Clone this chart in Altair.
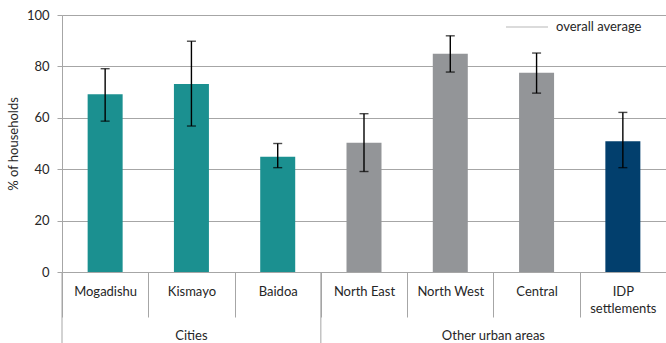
import altair as alt
import pandas as pd

# Share of households by location, with 95% confidence intervals
locations = ["Mogadishu", "Kismayo", "Baidoa", "North East", "North West", "Central", "IDP settlements"]
groups = ["Cities", "Cities", "Cities", "Other urban areas", "Other urban areas", "Other urban areas", "IDP"]
share = [69.2, 73.2, 44.8, 50.3, 84.9, 77.5, 50.9]
ci_low = [58.7, 56.8, 40.6, 39.1, 77.8, 69.6, 40.6]
ci_high = [79.1, 89.8, 50.0, 61.6, 91.9, 85.2, 62.1]
palette = {"Cities": "#1B9090", "Other urban areas": "#939598", "IDP": "#023F6D"}

df = pd.DataFrame({
    "location": locations,
    "group": groups,
    "share": share,
    "low": ci_low,
    "high": ci_high,
})

FONT = "Lato"
GRID = "#A6A6A6"
TEXT = "#262626"
W, H = 604, 257

x = alt.X(
    "location:N",
    sort=locations,
    scale=alt.Scale(paddingInner=0, paddingOuter=0),
    axis=alt.Axis(
        title=None,
        domain=False,
        tickBand="extent",
        tickSize=45,
        tickColor=GRID,
        tickWidth=1,
        labelAngle=0,
        labelFont=FONT,
        labelFontSize=13,
        labelColor=TEXT,
        labelPadding=-32,
        labelBaseline="top",
        labelLineHeight=17,
        labelExpr="datum.value == 'IDP settlements' ? ['IDP', 'settlements'] : datum.label",
    ),
)

bars = alt.Chart(df).mark_bar(size=35).encode(
    x=x,
    y=alt.Y(
        "share:Q",
        scale=alt.Scale(domain=[0, 100]),
        axis=alt.Axis(
            title="% of households",
            values=[0, 20, 40, 60, 80, 100],
            grid=True,
            gridColor=GRID,
            domainColor=GRID,
            tickColor=GRID,
            tickSize=5,
            labelFont=FONT,
            labelFontSize=13,
            labelColor=TEXT,
            labelPadding=8,
            titleFont=FONT,
            titleFontSize=13,
            titleFontWeight="normal",
            titleColor=TEXT,
            titlePadding=6,
        ),
    ),
    color=alt.Color("group:N", scale=alt.Scale(domain=list(palette), range=list(palette.values())), legend=None),
)

whisker = alt.Chart(df).mark_rule(color="#000000", strokeWidth=1.4).encode(
    x=alt.X("location:N", sort=locations), y="low:Q", y2="high:Q"
)
cap_low = alt.Chart(df).mark_tick(color="#000000", size=9, thickness=1.4, orient="horizontal").encode(
    x=alt.X("location:N", sort=locations), y="low:Q"
)
cap_high = alt.Chart(df).mark_tick(color="#000000", size=9, thickness=1.4, orient="horizontal").encode(
    x=alt.X("location:N", sort=locations), y="high:Q"
)

# Long separators that bound the two location groups
sep_df = pd.DataFrame({"location": ["Mogadishu", "North East"]})
separators = alt.Chart(sep_df).mark_rule(color=GRID, strokeWidth=1).encode(
    x=alt.X("location:N", sort=locations, bandPosition=0),
    y=alt.value(H),
    y2=alt.value(H + 71),
)

# Group captions under the location labels
cities_df = pd.DataFrame({"location": ["Kismayo"], "caption": ["Cities"]})
urban_df = pd.DataFrame({"location": ["North West"], "caption": ["Other urban areas"]})
caption_style = dict(font=FONT, fontSize=13, color=TEXT, baseline="middle", align="center")
cities_text = alt.Chart(cities_df).mark_text(**caption_style).encode(
    x=alt.X("location:N", sort=locations, bandPosition=0.5), y=alt.value(H + 64), text="caption:N"
)
urban_text = alt.Chart(urban_df).mark_text(**caption_style).encode(
    x=alt.X("location:N", sort=locations, bandPosition=1), y=alt.value(H + 64), text="caption:N"
)

# Legend entry for the overall average reference line
legend_df = pd.DataFrame({"label": ["overall average"]})
legend_line = alt.Chart(legend_df).mark_rule(color="#9A9A9A", strokeWidth=0.7).encode(
    x=alt.value(444), x2=alt.value(486), y=alt.value(12)
)
legend_text = alt.Chart(legend_df).mark_text(
    font=FONT, fontSize=13, color=TEXT, align="left", baseline="middle"
).encode(x=alt.value(494), y=alt.value(12), text="label:N")

chart = alt.layer(
    bars, whisker, cap_low, cap_high, separators, cities_text, urban_text, legend_line, legend_text
).properties(
    width=W,
    height=H,
    autosize=alt.AutoSizeParams(type="none"),
    padding={"left": 62, "top": 15, "right": 0, "bottom": 71},
).configure_view(stroke=None).configure(background="#FFFFFF")

chart.save("out.html", embed_options={"renderer": "svg", "actions": False})
